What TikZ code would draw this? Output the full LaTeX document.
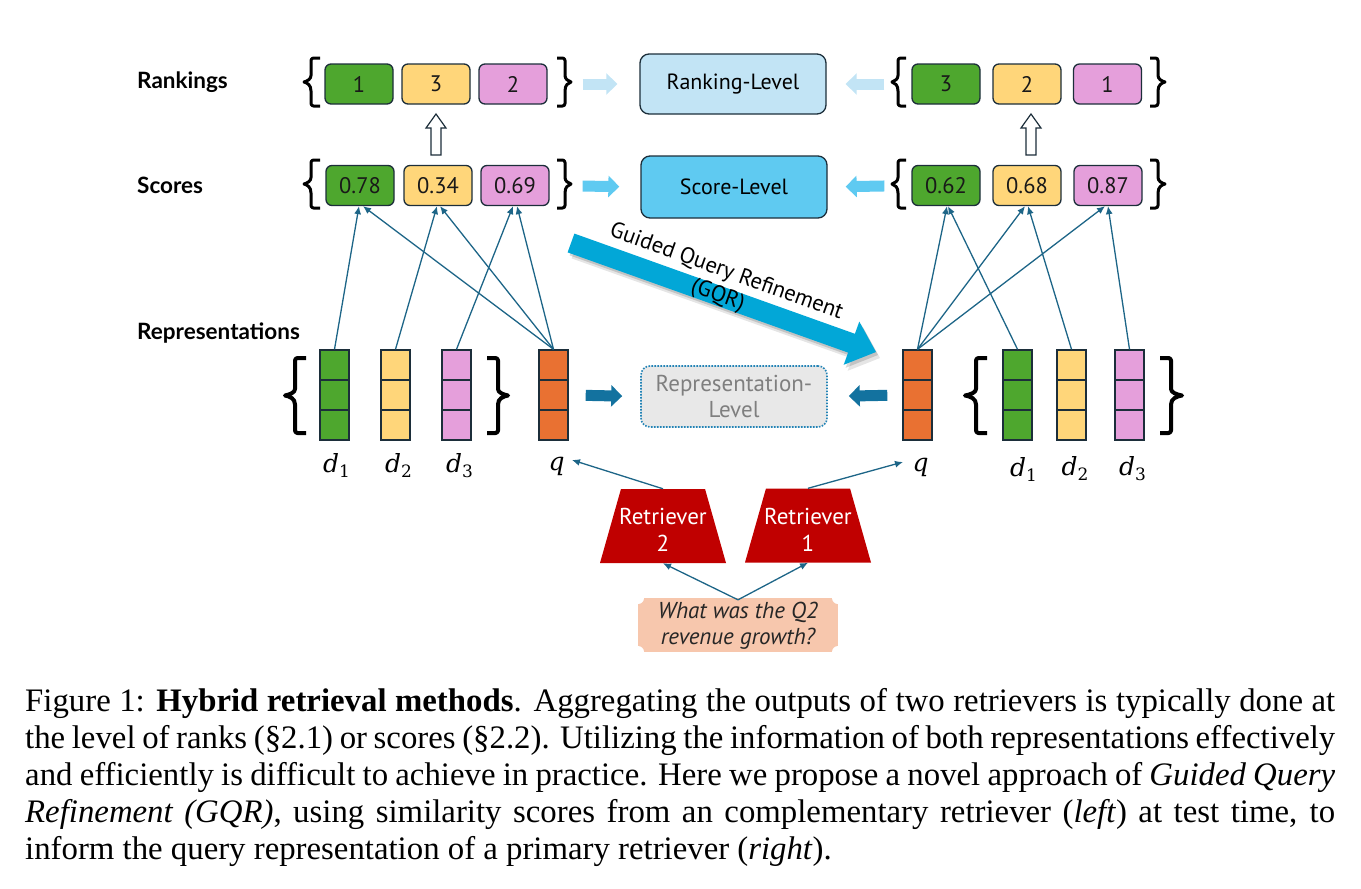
\documentclass[tikz,border=0pt]{standalone}
\usepackage{fontspec}
\setmainfont{Liberation Serif}
\newfontfamily\plexf{PT Sans}
\newfontfamily\labf{Lato}
\newfontfamily\mathf{DejaVu Serif}
\usetikzlibrary{arrows.meta,shapes.geometric,calc}

\definecolor{cgreen}{HTML}{4EA72E}
\definecolor{cyellow}{HTML}{FFD67A}
\definecolor{cpink}{HTML}{E59FDB}
\definecolor{corange}{HTML}{E97132}
\definecolor{bord}{HTML}{1C2E3A}
\definecolor{rankfill}{HTML}{C2E4F5}
\definecolor{scorefill}{HTML}{5FCAF1}
\definecolor{repfill}{HTML}{E8E8E8}
\definecolor{repborder}{HTML}{2383B5}
\definecolor{reparr}{HTML}{13729F}
\definecolor{connc}{HTML}{1D6587}
\definecolor{gqrc}{HTML}{02A7D7}
\definecolor{retred}{HTML}{C00000}
\definecolor{qfill}{HTML}{F7C7AD}
\definecolor{greytext}{HTML}{7F7F7F}

% #1 end x, #2 vertical x, #3 tip x, #4 top y, #5 bottom y, #6 line width
\newcommand\mybrace[6]{%
  \draw[line width=#6, line cap=butt, line join=round, rounded corners=2.5pt]
    (#1,#4) -- (#2,#4) -- (#2,{(#4+#5)/2-9}) [sharp corners]
    .. controls (#2,{(#4+#5)/2-3}) and ({(#2+#3)/2},{(#4+#5)/2-1}) .. (#3,{(#4+#5)/2})
    .. controls ({(#2+#3)/2},{(#4+#5)/2+1}) and (#2,{(#4+#5)/2+3}) .. (#2,{(#4+#5)/2+9})
    [rounded corners=2.5pt] -- (#2,#5) -- (#1,#5);}
% vector label: italic letter with upright subscript
\newcommand\vlab[2]{{\mathf\itshape #1}\raisebox{-5.5pt}{\mathf\fontsize{17}{17}\selectfont #2}}

\begin{document}
\begin{tikzpicture}[x=1pt,y=-1pt,
  cell/.style={draw=bord, line width=1.3pt, rounded corners=6pt, minimum width=68pt,
    minimum height=40pt, inner sep=0pt, text=black!90, font=\plexf\fontsize{22.5}{22.5}\selectfont},
  lvl/.style={draw=bord, line width=1.3pt, rounded corners=9pt, minimum width=186pt,
    minimum height=60pt, inner sep=0pt, align=center, font=\plexf\fontsize{22}{26}\selectfont},
  vec/.style={draw=bord, line width=1.4pt, minimum width=29pt, minimum height=90pt, inner sep=0pt,
    path picture={\draw[bord, line width=1.4pt]
      ($(path picture bounding box.north west)!1/3!(path picture bounding box.south west)$) --
      ($(path picture bounding box.north east)!1/3!(path picture bounding box.south east)$)
      ($(path picture bounding box.north west)!2/3!(path picture bounding box.south west)$) --
      ($(path picture bounding box.north east)!2/3!(path picture bounding box.south east)$);}},
  conn/.style={draw=connc, line width=1.3pt, -{Latex[length=8pt,width=7pt]}},
  blk/.style={line width=11pt, -{Triangle[length=11pt,width=21pt]}},
  rowlab/.style={anchor=base west, inner sep=0pt, font=\labf\bfseries\fontsize{22.5}{22.5}\selectfont},
  mlab/.style={anchor=base, inner sep=1pt, font=\fontsize{25}{25}\selectfont},
  ret/.style={trapezium, trapezium left angle=76, trapezium right angle=76, trapezium stretches=true,
    minimum width=126pt, minimum height=74pt, fill=retred, inner sep=3pt},
  rettext/.style={text=white, inner sep=0pt, align=center, font=\plexf\fontsize{23}{27}\selectfont},
  capline/.style={anchor=base west, inner sep=0pt, font=\fontsize{32.8}{37}\selectfont}
]
\useasboundingbox (0,0) rectangle (1361,889);

% row labels
\node[rowlab] (labrank) at (137,88) {Rankings};
\node[rowlab] (labscore) at (137,193) {Scores};
\node[rowlab] (labrep) at (137,339) {Representations};

% left rankings and scores
\node[cell, fill=cgreen] (lr1) at (359,84) {1};
\node[cell, fill=cyellow] (lr2) at (436,84) {3};
\node[cell, fill=cpink] (lr3) at (513,84) {2};
\node[cell, fill=cgreen] (ls1) at (360,185.5) {0.78};
\node[cell, fill=cyellow] (ls2) at (438,185.5) {0.34};
\node[cell, fill=cpink] (ls3) at (515,185.5) {0.69};
\mybrace{320}{311}{304}{58}{106}{3pt}
\mybrace{557}{565}{571}{58}{106}{3pt}
\mybrace{320}{311}{304}{160}{208}{3pt}
\mybrace{557}{565}{571}{160}{208}{3pt}

% right rankings and scores
\node[cell, fill=cgreen] (rr1) at (946,84) {3};
\node[cell, fill=cyellow] (rr2) at (1027,84) {2};
\node[cell, fill=cpink] (rr3) at (1107.5,84) {1};
\node[cell, fill=cgreen] (rs1) at (946,185.5) {0.62};
\node[cell, fill=cyellow] (rs2) at (1027,185.5) {0.68};
\node[cell, fill=cpink] (rs3) at (1108,185.5) {0.87};
\mybrace{906}{898}{892}{58}{106}{3pt}
\mybrace{1150}{1158}{1165}{58}{106}{3pt}
\mybrace{906}{898}{892}{160}{208}{3pt}
\mybrace{1150}{1158}{1165}{160}{208}{3pt}

% hollow arrows rank <- score
\draw[bord, fill=white, line width=1.2pt] (431,155) -- (431,128) -- (426,128) -- (436,114) -- (446,128) -- (441,128) -- (441,155) -- cycle;
\draw[bord, fill=white, line width=1.2pt] (1026,155) -- (1026,128) -- (1021,128) -- (1031,114) -- (1041,128) -- (1036,128) -- (1036,155) -- cycle;

% level boxes
\node[lvl, fill=rankfill] (rank) at (733,84) {Ranking-Level};
\node[lvl, fill=scorefill, minimum height=62pt] (score) at (734,187) {Score-Level};
\node[lvl, fill=repfill, draw=repborder, dash pattern=on 1.6pt off 1.4pt, line width=1.6pt,
  minimum height=61pt, text=greytext, font=\plexf\fontsize{23}{26}\selectfont] (rep) at (734,396.5) {Representation-\\Level};

% block arrows
\draw[blk, rankfill, shorten <=35pt, shorten >=22pt] (lr3.east) -- (rank.west);
\draw[blk, scorefill, shorten <=33pt, shorten >=21pt] (ls3.east) -- (score.west);
\draw[blk, rankfill, shorten <=27pt, shorten >=19pt] (rr1.west) -- (rank.east);
\draw[blk, scorefill, shorten <=27pt, shorten >=18pt] (rs1.west) -- (score.east);

% vectors
\node[vec, fill=cgreen] (ld1) at (334.5,395) {};
\node[vec, fill=cyellow] (ld2) at (395.5,395) {};
\node[vec, fill=cpink] (ld3) at (456.5,395) {};
\node[vec, fill=corange] (lq) at (553.5,395) {};
\node[vec, fill=corange] (rq) at (917.5,395) {};
\node[vec, fill=cgreen] (rd1) at (1017.5,395) {};
\node[vec, fill=cyellow] (rd2) at (1071.5,395) {};
\node[vec, fill=cpink] (rd3) at (1129.5,395) {};
\mybrace{306}{295}{285}{358}{433}{4pt}
\mybrace{487}{498}{508}{358}{433}{4pt}
\mybrace{987}{976}{965}{358}{433}{4pt}
\mybrace{1160}{1171}{1182}{358}{433}{4pt}

\draw[blk, reparr, shorten <=17pt, shorten >=18pt] (lq.east) -- (rep.west);
\draw[blk, reparr, shorten <=15pt, shorten >=21pt] (rq.west) -- (rep.east);

% vector labels
\node[mlab] (ld1lab) at (336.5,472) {\vlab{d}{1}};
\node[mlab] (ld2lab) at (398.5,472) {\vlab{d}{2}};
\node[mlab] (ld3lab) at (459.5,472) {\vlab{d}{3}};
\node[mlab] (lqlab) at (556.5,470) {{\mathf\itshape q}};
\node[mlab] (rqlab) at (920.5,471) {{\mathf\itshape q}};
\node[mlab] (rd1lab) at (1023.5,476) {\vlab{d}{1}};
\node[mlab] (rd2lab) at (1075,475) {\vlab{d}{2}};
\node[mlab] (rd3lab) at (1132.5,475) {\vlab{d}{3}};

% similarity connectors (left)
\draw[conn] (ld1.north) -- ([xshift=-1pt]ls1.south);
\draw[conn] (ld2.north) -- ([xshift=-1pt]ls2.south);
\draw[conn] (ld3.north) -- ([xshift=-2pt]ls3.south);
\draw[conn] (lq.north) -- ([xshift=3pt]ls1.south);
\draw[conn] (lq.north) -- ([xshift=2pt]ls2.south);
\draw[conn] (lq.north) -- ([xshift=2pt]ls3.south);
% similarity connectors (right)
\draw[conn] (rq.north) -- ([xshift=1pt]rs1.south);
\draw[conn] (rq.north) -- ([xshift=-2pt]rs2.south);
\draw[conn] (rq.north) -- ([xshift=-3pt]rs3.south);
\draw[conn] (rd1.north) -- ([xshift=2pt]rs1.south);
\draw[conn] (rd2.north) -- ([xshift=1pt]rs2.south);
\draw[conn] (rd3.north) -- (rs3.south);

% GQR arrow
\fill[black, opacity=0.10] (578.4,239.6) -- (858.9,339.8) -- (863.3,327.6) -- (880,358) -- (847.7,370.8) -- (852.1,358.6) -- (571.6,258.4) -- cycle;
\fill[black, opacity=0.15] (576.4,236.6) -- (856.9,336.8) -- (861.3,324.6) -- (878,355) -- (845.7,367.8) -- (850.1,355.6) -- (569.6,255.4) -- cycle;
\fill[gqrc] (574.4,233.6) -- (854.9,333.8) -- (859.3,321.6) -- (876,352) -- (843.7,364.8) -- (848.1,352.6) -- (567.6,252.4) -- cycle;
\node[rotate=-19.7, align=center, inner sep=0pt, font=\plexf\fontsize{22.5}{25}\selectfont] (gqr) at (722,284) {Guided Query Refinement\\(GQR)};

% retrievers
\node[ret] (ret2) at (663,526) {};
\node[ret] (ret1) at (808,525.5) {};
\node[rettext] (ret2t) at (663,530) {Retriever\\2};
\node[rettext] (ret1t) at (808,529.5) {Retriever\\1};

% query
\fill[qfill] (638,598) rectangle (838,652);
\fill[white] (638,598) circle (6pt) (838,598) circle (6pt) (638,652) circle (6pt) (838,652) circle (6pt);
\node[minimum width=200pt, minimum height=54pt, inner sep=0pt, align=center,
  font=\plexf\itshape\fontsize{23}{26}\selectfont, text=black!85] (qry) at (738,626) {What was the Q2\\revenue growth?};

\coordinate (lqin) at (572,460);
\coordinate (rqin) at (903,462);
\draw[conn] ([yshift=-1pt]qry.north) -- (ret2.south);
\draw[conn] ([yshift=-1pt]qry.north) -- (ret1.south);
\draw[conn] (ret2.north) -- (lqin);
\draw[conn] (ret1.north) -- (rqin);

% caption
\node[capline] (cap1) at (25,711) {\makebox[1310pt][s]{Figure 1: \textbf{Hybrid retrieval methods}. Aggregating the outputs of two retrievers is typically done at}};
\node[capline] (cap2) at (25,748) {\makebox[1310pt][s]{the level of ranks (§2.1) or scores (§2.2). Utilizing the information of both representations effectively}};
\node[capline] (cap3) at (25,785) {\makebox[1310pt][s]{and efficiently is difficult to achieve in practice. Here we propose a novel approach of \textit{Guided Query}}};
\node[capline] (cap4) at (25,822) {\makebox[1310pt][s]{\textit{Refinement (GQR)}, using similarity scores from an complementary retriever (\textit{left}) at test time, to}};
\node[capline] (cap5) at (25,859) {inform the query representation of a primary retriever (\textit{right}).};
\end{tikzpicture}
\end{document}
